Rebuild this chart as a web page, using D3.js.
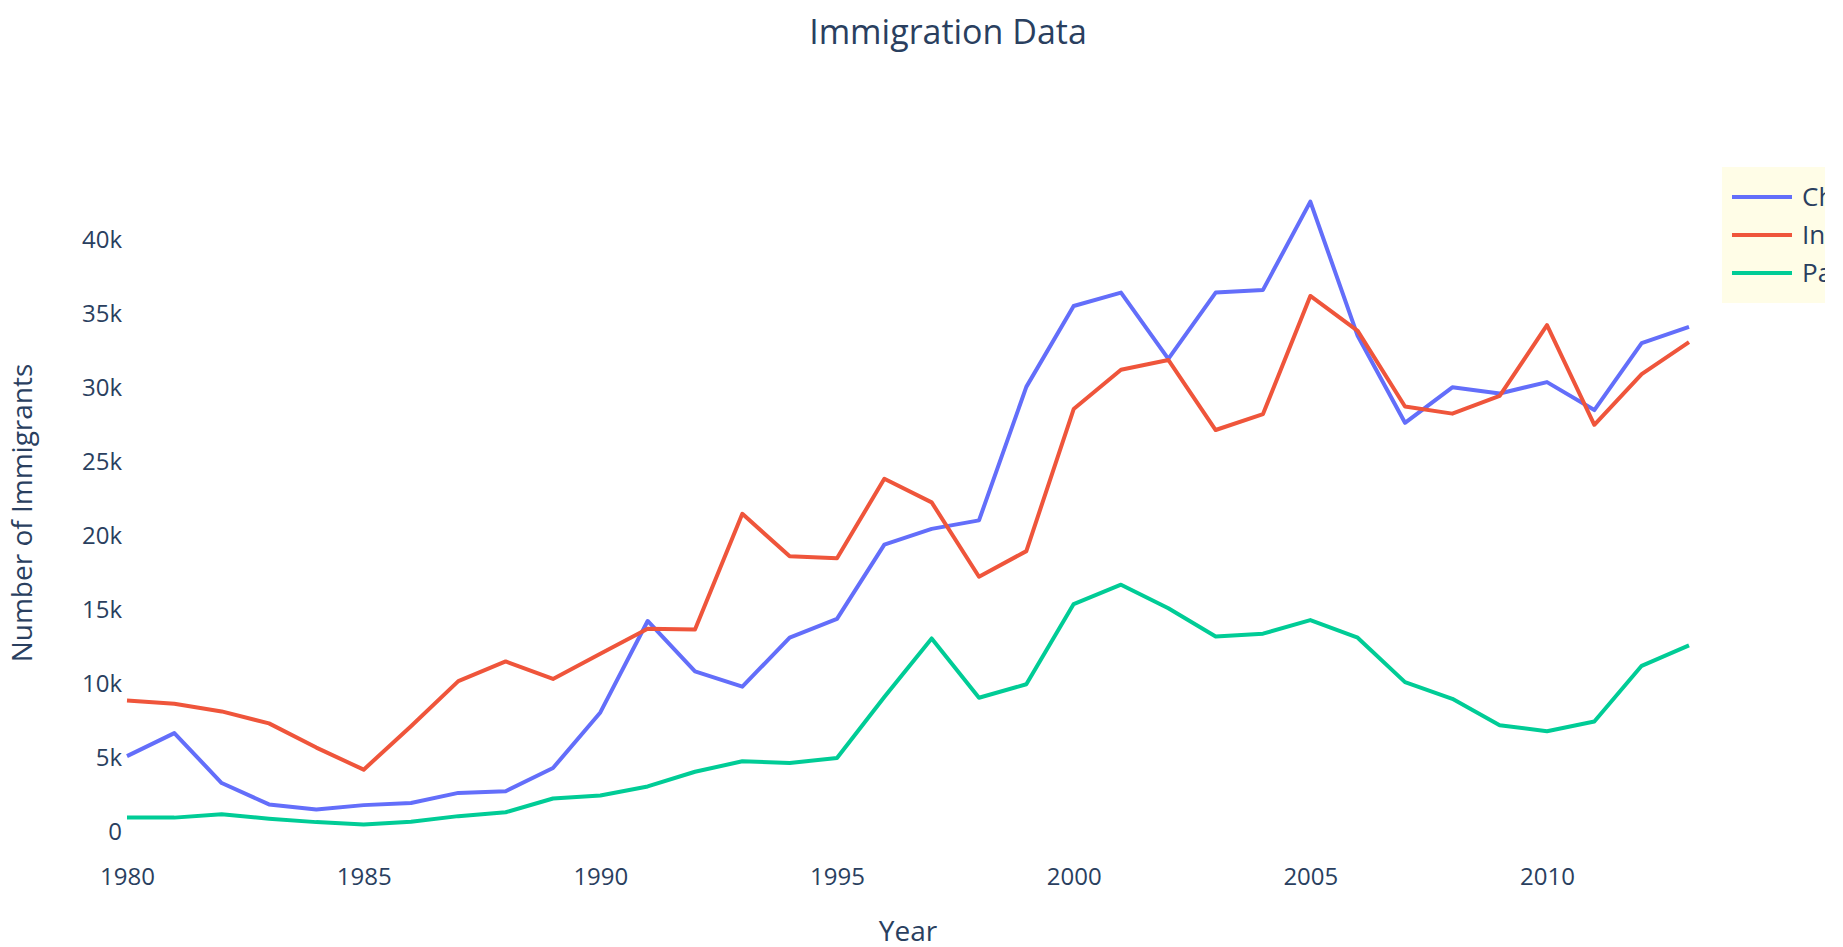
<!DOCTYPE html>
<html>
<head>
<meta charset="utf-8">
<script src="https://cdn.jsdelivr.net/npm/d3@7"></script>
<style>
  html, body { margin: 0; padding: 0; background: #fff; overflow: hidden; }
  svg { display: block; font-family: "Open Sans", "DejaVu Sans", sans-serif; }
</style>
</head>
<body>
<svg id="chart" width="1843" height="947"></svg>
<script>
const years = d3.range(1980, 2014);
const china = [5123, 6682, 3308, 1863, 1527, 1816, 1960, 2643, 2758, 4323, 8076, 14255, 10846, 9817, 13128, 14398, 19415, 20475, 21049, 30069, 35529, 36434, 31961, 36439, 36619, 42584, 33518, 27642, 30037, 29622, 30391, 28502, 33024, 34129];
const india = [8880, 8670, 8147, 7338, 5704, 4211, 7150, 10189, 11522, 10343, 12041, 13734, 13673, 21496, 18620, 18489, 23859, 22268, 17241, 18974, 28572, 31223, 31889, 27155, 28235, 36210, 33848, 28742, 28261, 29456, 34235, 27509, 30933, 33087];
const pakistan = [978, 972, 1201, 900, 668, 514, 691, 1072, 1334, 2261, 2470, 3079, 4071, 4777, 4666, 4994, 9125, 13073, 9068, 9979, 15400, 16708, 15110, 13205, 13399, 14314, 13127, 10124, 8994, 7217, 6811, 7468, 11227, 12603];
const seriesNames = ["China", "India", "Pakistan"];
const seriesColors = ["#636efa", "#EF553B", "#00cc96"];
const xTicks = [1980, 1985, 1990, 1995, 2000, 2005, 2010];
const yTicks = [0, 5000, 10000, 15000, 20000, 25000, 30000, 35000, 40000];
const yTickLabels = ["0", "5k", "10k", "15k", "20k", "25k", "30k", "35k", "40k"];

const seriesValues = [china, india, pakistan];
const textColor = "#2a3f5f";

const svg = d3.select("#chart");
const plot = { left: 127, right: 1689, top: 167, bottom: 859 };

const x = d3.scaleLinear().domain([1980, 2013]).range([plot.left, plot.right]);
const all = seriesValues.flat();
const ymin = d3.min(all), ymax = d3.max(all);
const span = (ymax - ymin) / 0.9;
const pad = (span - (ymax - ymin)) / 2;
const y = d3.scaleLinear().domain([ymin - pad, ymax + pad]).range([plot.bottom, plot.top]);

// Y axis
const yAxis = d3.axisLeft(y).tickValues(yTicks).tickSize(0).tickPadding(5)
  .tickFormat((d, i) => yTickLabels[i]);
const gy = svg.append("g").attr("transform", `translate(${plot.left},0)`).call(yAxis);
gy.select(".domain").remove();
gy.selectAll("text").attr("fill", textColor).style("font-size", "24px")
  .style("font-family", "'Open Sans', sans-serif");

// X axis
const xAxis = d3.axisBottom(x).tickValues(xTicks).tickSize(0).tickFormat(d3.format("d"));
const gx = svg.append("g").attr("transform", `translate(0,${plot.bottom})`).call(xAxis);
gx.select(".domain").remove();
gx.selectAll("text").attr("fill", textColor).style("font-size", "24px")
  .style("font-family", "'Open Sans', sans-serif")
  .attr("dy", null).attr("y", 26);

// Lines
const line = d3.line().x((d, i) => x(years[i])).y(d => y(d));
seriesValues.forEach((vals, k) => {
  svg.append("path").datum(vals)
    .attr("d", line)
    .attr("fill", "none")
    .attr("stroke", seriesColors[k])
    .attr("stroke-width", 4)
    .attr("stroke-linejoin", "round");
});

// Title
svg.append("text").attr("x", 948).attr("y", 44).attr("text-anchor", "middle")
  .attr("fill", textColor).style("font-size", "34px").text("Immigration Data");

// Axis titles
svg.append("text").attr("x", (plot.left + plot.right) / 2).attr("y", 941)
  .attr("text-anchor", "middle").attr("fill", textColor).style("font-size", "28px").text("Year");
svg.append("text").attr("transform", `translate(32,${(plot.top + plot.bottom) / 2}) rotate(-90)`)
  .attr("text-anchor", "middle").attr("fill", textColor).style("font-size", "28px")
  .text("Number of Immigrants");

// Legend (clipped at the figure's right edge, as in the reference)
const legendW = 103, legendH = 136;
svg.append("defs").append("clipPath").attr("id", "legclip")
  .append("rect").attr("x", 0).attr("y", 0).attr("width", legendW).attr("height", legendH);
const lg = svg.append("g").attr("transform", "translate(1722,167)")
  .attr("clip-path", "url(#legclip)");
lg.append("rect").attr("x", 0).attr("y", 0).attr("width", legendW).attr("height", legendH)
  .attr("fill", "#fffde7");
seriesNames.forEach((name, k) => {
  const cy = 30 + k * 38;
  lg.append("line").attr("x1", 10).attr("x2", 70).attr("y1", cy).attr("y2", cy)
    .attr("stroke", seriesColors[k]).attr("stroke-width", 4);
  lg.append("text").attr("x", 80).attr("y", cy).attr("dy", "0.35em")
    .attr("fill", textColor).style("font-size", "26px").text(name);
});
</script>
</body>
</html>
